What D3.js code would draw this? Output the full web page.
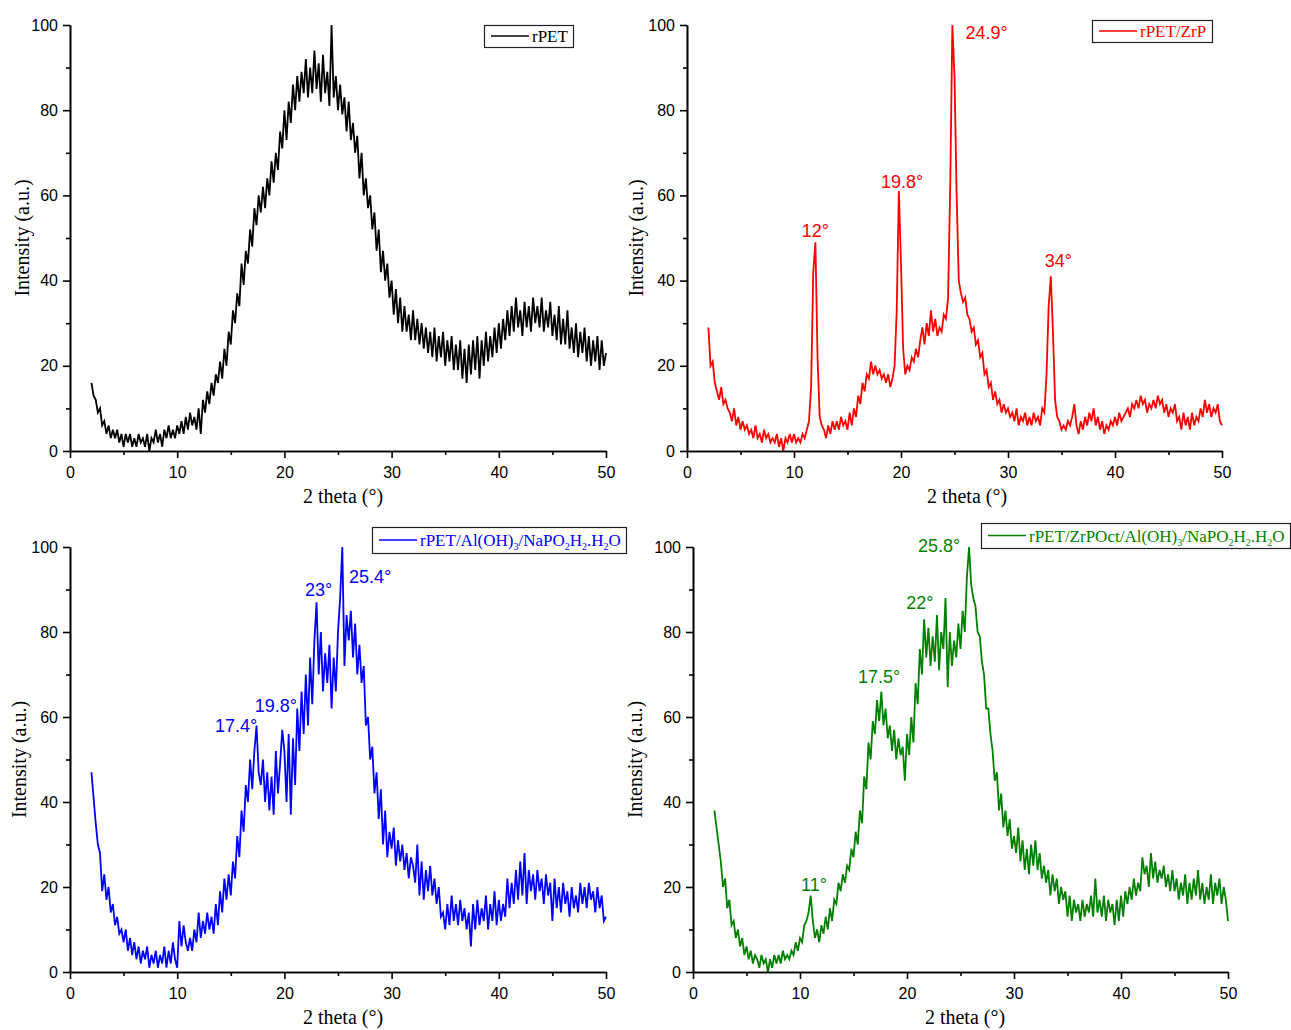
<!DOCTYPE html>
<html>
<head>
<meta charset="utf-8">
<script src="https://d3js.org/d3.v7.min.js"></script>
<style>
    body { margin: 0; background: #fff; }
    .tick text { font-family: "Liberation Sans", Arial, sans-serif; font-size: 16px; fill: #000; }
    .axis path, .axis line { stroke: #000; stroke-width: 1.6px; }
    .title { font-family: "Liberation Serif", "Times New Roman", serif; font-size: 20px; fill: #000; }
    .legend text { font-family: "Liberation Serif", "Times New Roman", serif; font-size: 17px; }
    .peak { font-family: "Liberation Sans", Arial, sans-serif; font-size: 18px; }
    .line { fill: none; stroke-width: 1.8px; }
</style>
</head>
<body>
<svg width="1291" height="1030"></svg>

<script>
// 2 theta grid of the scans (degrees)
var angleStart = 2, angleStep = 0.2;

// intensities (a.u.), one value per step from 2 to 50 degrees
var rPET = [
    16,13,12,9,10,6,7,4,6,3,
    5,3,5,2,4,1,4,2,4,1,
    3,1,4,2,3,1,4,0,3,2,
    5,2,4,1,5,3,6,3,5,3,
    6,4,7,4,8,5,9,6,8,5,
    10,4,12,9,14,11,16,13,18,16,
    21,17,24,20,28,25,33,30,37,34,
    44,39,47,44,52,48,57,53,60,56,
    62,57,64,60,68,63,70,66,75,71,
    80,73,82,77,86,80,88,82,89,84,
    92,83,90,84,94,85,91,82,93,84,
    89,81,100,83,88,80,86,79,83,75,
    82,73,77,70,74,64,70,60,64,57,
    60,52,56,47,52,42,47,40,44,36,
    40,32,38,30,36,28,34,28,32,26,
    33,26,31,25,30,24,29,23,28,22,
    29,21,27,22,28,20,26,21,27,19,
    25,19,26,17,24,16,25,18,26,19,
    27,17,26,20,28,21,27,22,29,23,
    30,24,31,26,33,27,34,28,36,29,
    33,27,35,29,34,28,36,30,34,29,
    36,28,33,29,35,27,32,26,34,25,
    31,25,33,24,29,23,30,22,28,23,
    29,21,27,20,26,21,27,19,26,20,
    23
];

var rPET_ZrP = [
    29,20,21,16,14,12,15,11,12,10,
    9,7,10,6,8,5,7,5,6,4,
    5,3,6,3,4,2,5,3,4,2,
    3,2,4,1,3,0,3,2,4,2,
    4,2,3,2,4,3,5,7,15,42,
    49,22,8,6,5,3,6,4,7,5,
    7,5,8,6,7,5,9,6,10,8,
    13,11,16,14,18,17,21,18,20,18,
    19,17,18,16,18,15,17,20,33,61,
    44,24,18,20,19,22,21,24,22,26,
    29,25,30,27,33,28,31,27,29,28,
    32,31,36,62,100,88,60,40,37,35,
    36,32,31,28,29,25,26,22,23,18,
    19,15,16,12,14,11,12,9,11,9,
    10,8,9,7,10,6,8,7,9,6,
    8,6,9,7,8,6,10,9,18,34,
    41,28,12,8,7,5,6,5,7,6,
    8,11,6,4,7,5,8,6,9,7,
    10,6,8,5,7,4,6,5,7,6,
    8,6,9,7,8,9,10,8,11,10,
    12,10,13,11,12,9,11,10,12,10,
    13,11,12,9,11,8,10,9,11,7,
    8,5,9,6,8,5,9,6,8,7,
    10,8,12,9,11,8,10,9,11,7,
    6
];

var rPET_Al = [
    47,41,35,30,28,19,23,17,20,14,
    16,11,13,9,10,7,10,5,8,4,
    7,3,6,2,5,3,6,1,4,2,
    5,1,4,2,6,1,5,2,7,3,
    1,12,6,11,7,5,8,5,10,7,
    14,8,12,9,14,10,13,9,16,11,
    19,14,22,17,23,18,26,22,32,27,
    38,33,44,40,50,43,52,58,47,44,
    50,40,47,38,46,37,52,42,49,57,
    52,40,56,37,55,44,62,52,66,56,
    70,58,74,63,78,87,70,80,66,75,
    68,77,62,74,66,80,88,100,72,84,
    78,85,74,82,70,77,68,72,58,60,
    50,53,42,47,36,43,30,38,27,33,
    29,34,25,31,26,30,24,28,22,27,
    25,21,30,18,26,17,24,19,25,18,
    22,16,20,13,14,10,16,11,18,12,
    16,11,17,12,15,10,14,6,16,10,
    17,11,15,12,18,10,16,12,19,11,
    17,12,16,13,22,15,21,16,24,17,
    26,18,28,16,24,19,23,17,24,19,
    22,16,23,18,21,12,22,15,20,14,
    21,16,19,13,20,15,18,14,21,16,
    20,15,21,17,19,14,20,15,18,12,
    13
];

var rPET_ZrPOct = [
    38,34,30,26,20,22,15,17,11,12,
    8,10,6,8,4,6,3,5,2,4,
    3,1,4,2,3,0,3,1,4,2,
    4,2,5,3,4,3,5,4,7,5,
    8,7,11,12,14,18,12,8,10,7,
    11,9,13,10,15,12,17,16,21,19,
    23,21,25,24,29,27,33,30,38,35,
    46,43,54,50,59,56,64,59,66,58,
    62,55,58,52,57,50,55,51,53,45,
    56,51,60,54,68,63,76,70,83,74,
    81,72,79,73,84,71,80,76,88,67,
    80,72,78,74,82,76,85,80,93,100,
    91,88,86,80,79,73,70,62,62,56,
    52,45,47,38,42,34,38,32,36,29,
    32,28,34,26,31,24,29,23,30,25,
    31,24,28,22,25,21,24,18,23,19,
    22,16,20,17,19,13,18,12,17,14,
    16,12,17,13,16,14,18,13,22,14,
    17,13,18,12,17,14,16,11,17,12,
    18,13,19,16,20,17,22,18,21,19,
    27,23,25,20,28,22,26,21,24,22,
    25,20,23,19,24,19,22,17,21,18,
    23,16,21,17,22,18,24,17,21,16,
    20,17,23,16,21,18,22,16,20,17,
    12
];

var xTicks = [0, 10, 20, 30, 40, 50];
var xMinor = [5, 15, 25, 35, 45];
var yTicks = [0, 20, 40, 60, 80, 100];
var yMinor = [10, 30, 50, 70, 90];

// legend texts, [text, subscript?]
var legend1 = [["rPET"]];
var legend2 = [["rPET/ZrP"]];
var legend3 = [["rPET/Al(OH)"], ["3", 1], ["/NaPO"], ["2", 1], ["H"], ["2", 1], [".H"], ["2", 1], ["O"]];
var legend4 = [["rPET/ZrPOct/Al(OH)"], ["3", 1], ["/NaPO"], ["2", 1], ["H"], ["2", 1], [".H"], ["2", 1], ["O"]];

// peak labels: text, 2 theta and intensity where the label sits
var peaks2 = [["12°", 12.0, 50.2], ["19.8°", 20.1, 61.7], ["24.9°", 28.0, 96.7], ["34°", 34.7, 43.2]];
var peaks3 = [["17.4°", 15.5, 56.5], ["19.8°", 19.2, 61.2], ["23°", 23.2, 88.5], ["25.4°", 28.0, 91.5]];
var peaks4 = [["25.8°", 23.0, 98.8], ["22°", 21.2, 85.4], ["17.5°", 17.4, 68.0], ["11°", 11.3, 19.1]];

var panels = [
    {values: rPET, color: "#000000", legend: legend1, peaks: [],
     left: 70, right: 606, top: 25, bottom: 451, xTitle: 343, yTitle: 29,
     box: [484, 25, 89, 22]},
    {values: rPET_ZrP, color: "#ff0000", legend: legend2, peaks: peaks2,
     left: 687, right: 1222, top: 25, bottom: 451, xTitle: 967, yTitle: 643,
     box: [1092, 20, 120, 22]},
    {values: rPET_Al, color: "#0000ff", legend: legend3, peaks: peaks3,
     left: 70, right: 606, top: 547, bottom: 972, xTitle: 343, yTitle: 26,
     box: [372, 527, 254, 26]},
    {values: rPET_ZrPOct, color: "#008000", legend: legend4, peaks: peaks4,
     left: 693, right: 1228, top: 547, bottom: 972, xTitle: 965, yTitle: 642,
     box: [981, 523, 309, 25]}
];

var svg = d3.select("svg");
svg.append("rect").attr("width", 1291).attr("height", 1030).attr("fill", "#fff");

panels.forEach(function (p) {
    var x = d3.scaleLinear().domain([0, 50]).range([p.left, p.right]),
        y = d3.scaleLinear().domain([0, 100]).range([p.bottom, p.top]);
    var g = svg.append("g");

    var line = d3.line()
        .x(function (d, i) { return x(angleStart + i * angleStep); })
        .y(function (d) { return y(d); });

    g.append("path")
        .datum(p.values)
        .attr("class", "line")
        .attr("d", line)
        .style("stroke", p.color);

    g.append("g")
        .attr("class", "axis")
        .attr("transform", "translate(0," + p.bottom + ")")
        .call(d3.axisBottom(x).tickValues(xMinor).tickSize(4).tickSizeOuter(0).tickFormat(""));
    g.append("g")
        .attr("class", "axis")
        .attr("transform", "translate(0," + p.bottom + ")")
        .call(d3.axisBottom(x).tickValues(xTicks).tickSize(7).tickSizeOuter(0).tickPadding(9));

    g.append("g")
        .attr("class", "axis")
        .attr("transform", "translate(" + p.left + ",0)")
        .call(d3.axisLeft(y).tickValues(yMinor).tickSize(4).tickSizeOuter(0).tickFormat(""));
    g.append("g")
        .attr("class", "axis")
        .attr("transform", "translate(" + p.left + ",0)")
        .call(d3.axisLeft(y).tickValues(yTicks).tickSize(7).tickSizeOuter(0).tickPadding(5));

    g.append("text")
        .attr("class", "title")
        .attr("x", p.xTitle)
        .attr("y", p.bottom + 52)
        .attr("text-anchor", "middle")
        .text("2 theta (°)");

    g.append("text")
        .attr("class", "title")
        .attr("transform", "translate(" + p.yTitle + "," + (p.top + p.bottom) / 2 + ") rotate(-90)")
        .attr("text-anchor", "middle")
        .text("Intensity (a.u.)");

    g.selectAll(".peak")
        .data(p.peaks)
        .enter().append("text")
        .attr("class", "peak")
        .attr("x", function (d) { return x(d[1]); })
        .attr("y", function (d) { return y(d[2]); })
        .attr("text-anchor", "middle")
        .style("fill", p.color)
        .text(function (d) { return d[0]; });

    // legend
    var b = p.box;
    var lg = g.append("g").attr("class", "legend");
    lg.append("rect")
        .attr("x", b[0] + 0.5).attr("y", b[1] + 0.5)
        .attr("width", b[2]).attr("height", b[3])
        .attr("fill", "#fff").attr("stroke", "#222").attr("stroke-width", 1.2);
    var ly = b[1] + b[3] / 2;
    lg.append("line")
        .attr("x1", b[0] + 7).attr("x2", b[0] + 45)
        .attr("y1", ly).attr("y2", ly)
        .attr("stroke", p.color).attr("stroke-width", 1.6);
    var t = lg.append("text")
        .attr("x", b[0] + 48)
        .attr("y", ly + 6)
        .style("fill", p.color);
    var down = false;
    p.legend.forEach(function (s) {
        var ts = t.append("tspan").text(s[0]);
        if (s[1]) {
            ts.attr("dy", 4).style("font-size", "10px");
            down = true;
        } else if (down) {
            ts.attr("dy", -4);
            down = false;
        }
    });
});
</script>
</body>
</html>
